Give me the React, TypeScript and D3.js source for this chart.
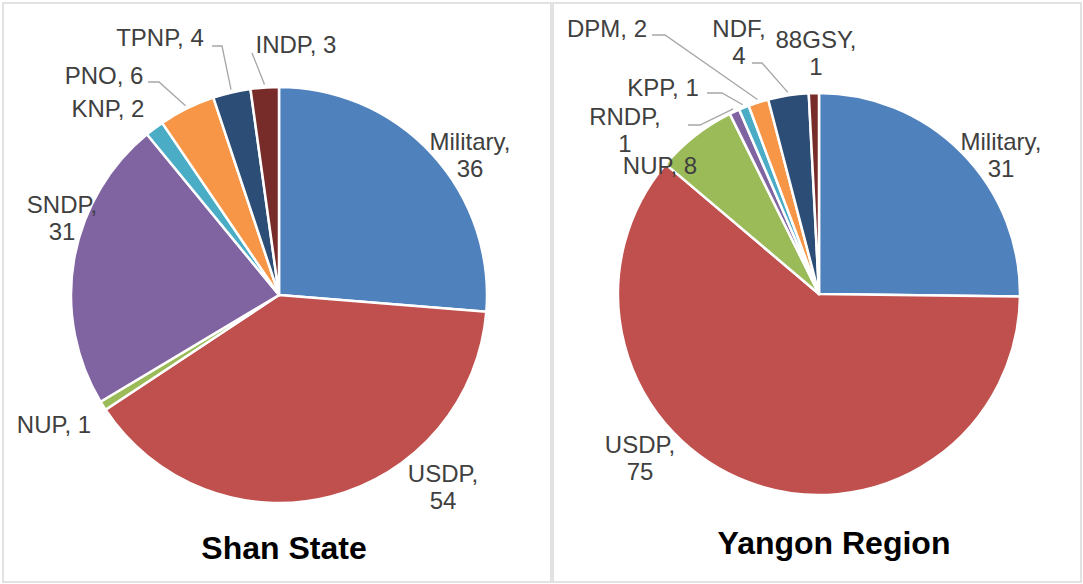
import * as d3 from "d3";

const shanParties = ["Military", "USDP", "NUP", "SNDP", "KNP", "PNO", "TPNP", "INDP"];
const shanSeats = [36, 54, 1, 31, 2, 6, 4, 3];

const yangonParties = ["Military", "USDP", "NUP", "RNDP", "KPP", "DPM", "NDF", "88GSY"];
const yangonSeats = [31, 75, 8, 1, 1, 2, 4, 1];

const sliceColors = ["#4F81BD", "#C0504D", "#9BBB59", "#8064A2", "#4BACC6", "#F79646", "#2C4D75", "#772C2A"];

// label placement (Excel put these by hand, so do we)
type LabelPos = { x: number; y: number; wrap?: boolean; lead?: [number, number, number, number] };

const shanLabels: LabelPos[] = [
  { x: 470, y: 150, wrap: true },
  { x: 443, y: 482, wrap: true },
  { x: 54, y: 433 },
  { x: 62, y: 213, wrap: true },
  { x: 108, y: 117 },
  { x: 104, y: 84, lead: [148, 82, 159, 82] },
  { x: 160, y: 46, lead: [212, 46, 222, 46] },
  { x: 296, y: 53, lead: [252, 53, 252, 53] },
];

const yangonLabels: LabelPos[] = [
  { x: 1001, y: 150, wrap: true },
  { x: 640, y: 453, wrap: true },
  { x: 660, y: 174 },
  { x: 625, y: 125, wrap: true, lead: [688, 125, 700, 125] },
  { x: 663, y: 96, lead: [707, 93, 722, 93] },
  { x: 607, y: 37, lead: [652, 35, 665, 35] },
  { x: 739, y: 37, wrap: true, lead: [752, 63, 762, 63] },
  { x: 816, y: 48, wrap: true },
];

const FONT = "'Liberation Sans', Arial, sans-serif";

function PieChart({ parties, seats, labels, cx, cy, r, title, titleX, titleY }: any) {
  const pie = d3.pie<number>().sort(null).value((d) => d);
  const arcs = pie(seats);
  const arc = d3.arc<d3.PieArcDatum<number>>().innerRadius(0).outerRadius(r);
  const edge = d3.arc<d3.PieArcDatum<number>>().innerRadius(r + 3).outerRadius(r + 3);

  return (
    <g>
      <g transform={`translate(${cx},${cy})`}>
        {arcs.map((a, i) => (
          <path key={i} d={arc(a) || ""} fill={sliceColors[i]} stroke="#ffffff" strokeWidth={2.5} strokeLinejoin="round" />
        ))}
      </g>
      {arcs.map((a, i) => {
        const l = labels[i];
        if (!l.lead) return null;
        const [ex, ey] = edge.centroid(a);
        return (
          <polyline
            key={"l" + i}
            points={`${l.lead[0]},${l.lead[1]} ${l.lead[2]},${l.lead[3]} ${cx + ex},${cy + ey}`}
            fill="none"
            stroke="#a6a6a6"
            strokeWidth={1.3}
          />
        );
      })}
      {arcs.map((a, i) => {
        const l = labels[i];
        const lines = l.wrap ? [parties[i] + ",", String(seats[i])] : [`${parties[i]}, ${seats[i]}`];
        return (
          <text key={"t" + i} x={l.x} y={l.y} textAnchor="middle" fontFamily={FONT} fontSize={24} fill="#404040">
            {lines.map((s, j) => (
              <tspan key={j} x={l.x} dy={j === 0 ? 0 : 26.5}>
                {s}
              </tspan>
            ))}
          </text>
        );
      })}
      <text x={titleX} y={titleY} textAnchor="middle" fontFamily={FONT} fontSize={32} fontWeight="bold" fill="#000">
        {title}
      </text>
    </g>
  );
}

export default function App() {
  return (
    <svg width={1083} height={584} style={{ position: "absolute", left: 0, top: 0, background: "#fff" }}>
      <rect x={3} y={3} width={548} height={579} fill="#fff" stroke="#d9d9d9" strokeWidth={1.5} />
      <rect x={553} y={3} width={528} height={579} fill="#fff" stroke="#d9d9d9" strokeWidth={1.5} />
      <PieChart parties={shanParties} seats={shanSeats} labels={shanLabels} cx={279} cy={295} r={208}
        title="Shan State" titleX={284} titleY={559} />
      <PieChart parties={yangonParties} seats={yangonSeats} labels={yangonLabels} cx={819} cy={294} r={201}
        title="Yangon Region" titleX={834} titleY={554} />
    </svg>
  );
}
